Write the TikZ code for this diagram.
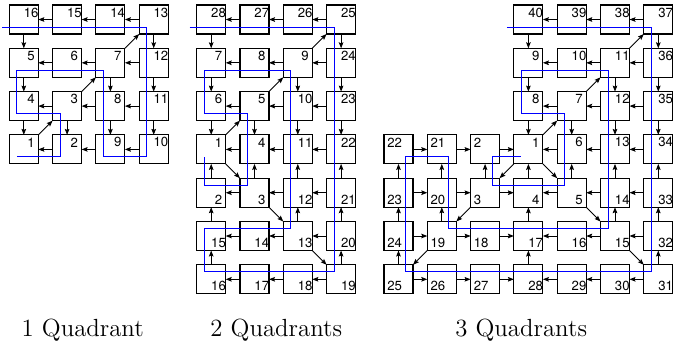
\documentclass[tikz,border=0pt]{standalone}
\usepackage{fontspec}
\newfontfamily\numfont{TeX Gyre Heros}
\usetikzlibrary{arrows.meta}
\begin{document}
\begin{tikzpicture}[x=0.5pt, y=-0.5pt,
  cell/.style={draw, line width=0.55pt, minimum size=14.5pt, inner sep=0pt, outer sep=0pt},
  numlbl/.style={font=\numfont\fontsize{6.6}{7}\selectfont, inner sep=0pt, outer sep=0pt},
  lne/.style={label={[numlbl, xshift=3.65pt, yshift=3.5pt]center:#1}},
  lse/.style={label={[numlbl, xshift=3.65pt, yshift=-3.5pt]center:#1}},
  lnw/.style={label={[numlbl, xshift=-5.6pt, yshift=3.5pt]center:\makebox[0pt][l]{#1}}},
  lsw/.style={label={[numlbl, xshift=-5.6pt, yshift=-3.5pt]center:\makebox[0pt][l]{#1}}},
  arr/.style={-{Stealth[length=3pt,width=2.3pt,inset=0.5pt]}, line width=0.45pt},
  walk/.style={blue, line width=0.5pt},
  captext/.style={font=\fontsize{12.4}{15}\selectfont, anchor=base, inner sep=0pt}]
\useasboundingbox (0,0) rectangle (692,345);

% ---------- one quadrant ----------
\foreach \c/\r/\n in {1/1/16, 2/1/15, 3/1/14, 4/1/13, 1/2/5, 2/2/6, 3/2/7, 4/2/12,
                      1/3/4, 2/3/3, 3/3/8, 4/3/11, 1/4/1, 2/4/2, 3/4/9, 4/4/10}
  \node[cell, lne=\n] (a\n) at ({23.8+43.3*(\c-1)},{19.5+43.3*(\r-1)}) {};

\foreach \f/\t in {15/16, 14/15, 13/14, 16/5, 13/12, 7/13, 6/5, 7/6, 12/7, 5/4, 7/8, 12/11,
                   3/7, 3/4, 8/3, 11/8, 4/1, 3/2, 8/9, 11/10, 1/3, 2/1, 9/2, 10/9}
  \draw[arr] (a\f) -- (a\t);

% ---------- two quadrants ----------
\foreach \c/\r/\n in {1/1/28, 2/1/27, 3/1/26, 4/1/25, 1/2/7, 2/2/8, 3/2/9, 4/2/24,
                      1/3/6, 2/3/5, 3/3/10, 4/3/23, 1/4/1, 2/4/4, 3/4/11, 4/4/22}
  \node[cell, lne=\n] (b\n) at ({211.2+43.3*(\c-1)},{19.5+43.3*(\r-1)}) {};
\foreach \c/\r/\n in {1/5/2, 2/5/3, 3/5/12, 4/5/21, 1/6/15, 2/6/14, 3/6/13, 4/6/20,
                      1/7/16, 2/7/17, 3/7/18, 4/7/19}
  \node[cell, lse=\n] (b\n) at ({211.2+43.3*(\c-1)},{19.5+43.3*(\r-1)}) {};

\foreach \f/\t in {27/28, 26/27, 25/26, 28/7, 25/24, 9/25,
                   8/7, 9/8, 24/9, 7/6, 9/10, 24/23, 5/9,
                   5/6, 10/5, 23/10, 6/1, 5/4, 10/11, 23/22, 1/5,
                   4/1, 11/4, 22/11,
                   2/1, 3/4, 12/11, 21/22, 1/3,
                   3/2, 12/3, 21/12,
                   15/2, 13/12, 20/21, 3/13,
                   14/15, 13/14, 20/13,
                   16/15, 19/20, 13/19,
                   17/16, 18/17, 19/18}
  \draw[arr] (b\f) -- (b\t);

% ---------- three quadrants ----------
\foreach \c/\r/\n in {4/1/40, 5/1/39, 6/1/38, 7/1/37, 4/2/9, 5/2/10, 6/2/11, 7/2/36,
                      4/3/8, 5/3/7, 6/3/12, 7/3/35, 4/4/1, 5/4/6, 6/4/13, 7/4/34}
  \node[cell, lne=\n] (c\n) at ({398.5+43.3*(\c-1)},{19.5+43.3*(\r-1)}) {};
\foreach \c/\r/\n in {1/4/22, 2/4/21, 3/4/2}
  \node[cell, lnw=\n] (c\n) at ({398.5+43.3*(\c-1)},{19.5+43.3*(\r-1)}) {};
\foreach \c/\r/\n in {1/5/23, 2/5/20, 3/5/3, 1/6/24, 2/6/19, 3/6/18, 1/7/25, 2/7/26, 3/7/27}
  \node[cell, lsw=\n] (c\n) at ({398.5+43.3*(\c-1)},{19.5+43.3*(\r-1)}) {};
\foreach \c/\r/\n in {4/5/4, 5/5/5, 6/5/14, 7/5/33, 4/6/17, 5/6/16, 6/6/15, 7/6/32,
                      4/7/28, 5/7/29, 6/7/30, 7/7/31}
  \node[cell, lse=\n] (c\n) at ({398.5+43.3*(\c-1)},{19.5+43.3*(\r-1)}) {};

\foreach \f/\t in {39/40, 38/39, 37/38, 40/9, 37/36, 11/37,
                   10/9, 11/10, 36/11, 9/8, 11/12, 36/35, 7/11,
                   7/8, 12/7, 35/12, 8/1, 7/6, 12/13, 35/34, 1/7,
                   22/21, 21/2, 2/1, 6/1, 13/6, 34/13,
                   23/22, 20/21, 3/2, 4/1, 1/3, 1/5, 5/6, 14/13, 33/34,
                   23/20, 20/3, 3/4, 5/4, 14/5, 33/14,
                   24/23, 19/20, 3/19, 17/4, 5/15, 15/14, 32/33,
                   24/19, 19/18, 18/17, 16/17, 15/16, 32/15,
                   25/24, 19/25, 28/17, 15/31, 31/32,
                   25/26, 26/27, 27/28, 29/28, 30/29, 31/30}
  \draw[arr] (c\f) -- (c\t);

% ---------- traversal curves ----------
\draw[walk] ([shift={(-21.65,7.5)}]a16.center)
  -- ([shift={(-7,7.5)}]a13.center) -- ([shift={(-7,7.5)}]a10.center)
  -- ([shift={(-7,7.5)}]a9.center)  -- ([shift={(-7,7.5)}]a7.center)
  -- ([shift={(-7,7.5)}]a5.center)  -- ([shift={(-7,7.5)}]a4.center)
  -- ([shift={(-7,7.5)}]a3.center)  -- ([shift={(-7,7.5)}]a2.center)
  -- ([shift={(-7,7.5)}]a1.center);

\draw[walk] ([shift={(-21.65,7.5)}]b28.center)
  -- ([shift={(-7,7.5)}]b25.center)  -- ([shift={(-7,-7.5)}]b19.center)
  -- ([shift={(-7,-7.5)}]b16.center) -- ([shift={(-7,-7.5)}]b15.center)
  -- ([shift={(-7,-7.5)}]b13.center) -- ([shift={(-7,7.5)}]b9.center)
  -- ([shift={(-7,7.5)}]b7.center)   -- ([shift={(-7,7.5)}]b6.center)
  -- ([shift={(-7,7.5)}]b5.center)   -- ([shift={(-7,-7.5)}]b3.center)
  -- ([shift={(-7,-7.5)}]b2.center)  -- ([shift={(-7,7.5)}]b1.center);

\draw[walk] ([shift={(-21.65,7.5)}]c40.center)
  -- ([shift={(-7,7.5)}]c37.center)  -- ([shift={(-7,-7.5)}]c31.center)
  -- ([shift={(7,-7.5)}]c25.center)  -- ([shift={(7,7.5)}]c22.center)
  -- ([shift={(7,7.5)}]c21.center)   -- ([shift={(7,-7.5)}]c19.center)
  -- ([shift={(-7,-7.5)}]c15.center) -- ([shift={(-7,7.5)}]c11.center)
  -- ([shift={(-7,7.5)}]c9.center)   -- ([shift={(-7,7.5)}]c8.center)
  -- ([shift={(-7,7.5)}]c7.center)   -- ([shift={(-7,-7.5)}]c5.center)
  -- ([shift={(7,-7.5)}]c3.center)   -- ([shift={(7,7.5)}]c2.center)
  -- ([shift={(-7,7.5)}]c1.center);

% ---------- captions ----------
\node[captext] (cap1) at (82.7,336.5) {1 Quadrant};
\node[captext] (cap2) at (276.3,336.5) {2 Quadrants};
\node[captext] (cap3) at (521.2,336.5) {3 Quadrants};
\end{tikzpicture}
\end{document}
